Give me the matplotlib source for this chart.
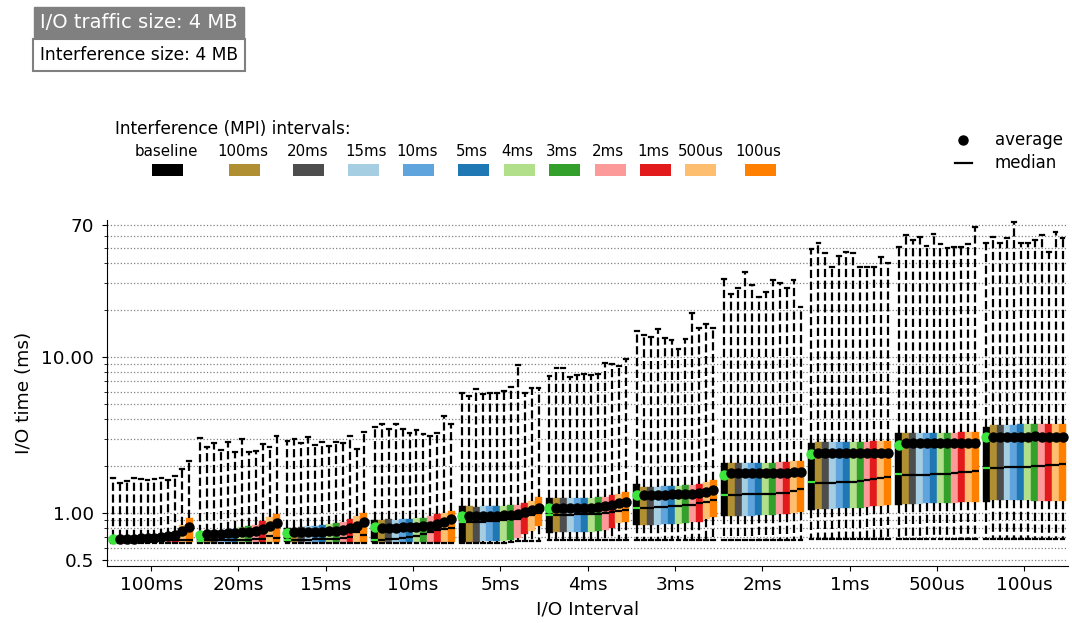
"""Box plots of I/O time per I/O interval under MPI interference."""

import matplotlib
matplotlib.use("Agg")
import matplotlib.pyplot as plt
import numpy as np
from matplotlib.patches import Rectangle
from matplotlib.lines import Line2D
from matplotlib.ticker import FixedLocator, FixedFormatter, LogLocator, NullFormatter

io_intervals = ["100ms", "20ms", "15ms", "10ms", "5ms", "4ms", "3ms", "2ms", "1ms", "500us", "100us"]
mpi_intervals = ["baseline", "100ms", "20ms", "15ms", "10ms", "5ms", "4ms", "3ms", "2ms", "1ms", "500us", "100us"]
colors = ["#000000", "#b08f32", "#4d4d4d", "#a6cee3", "#5fa4dc", "#1f78b4",
          "#b2df8a", "#33a02c", "#fb9a99", "#e31a1c", "#fdbf6f", "#ff7f00"]
baseline_color = "#3ce63c"

# upper whisker ends (ms)
whishi = [
    [1.67, 1.55, 1.61, 1.68, 1.65, 1.63, 1.65, 1.68, 1.63, 1.73, 1.91, 2.16],
    [3.01, 2.66, 2.82, 2.54, 2.86, 2.47, 2.98, 2.47, 2.50, 2.77, 2.66, 3.13],
    [2.91, 2.98, 2.82, 3.08, 2.73, 2.84, 2.69, 2.86, 2.82, 3.12, 2.57, 3.29],
    [3.54, 3.72, 3.44, 3.72, 3.44, 3.27, 3.40, 3.21, 3.13, 3.27, 4.19, 3.72],
    [5.85, 5.62, 6.21, 5.79, 5.85, 5.91, 6.08, 6.40, 8.89, 5.91, 6.30, 6.30],
    [7.55, 8.47, 8.47, 7.48, 7.67, 7.78, 7.67, 7.78, 9.12, 9.02, 8.75, 9.67],
    [14.7, 13.8, 13.4, 15.1, 13.2, 12.8, 11.2, 13.0, 19.2, 15.3, 16.2, 15.3],
    [31.5, 25.3, 27.6, 35.2, 28.9, 24.4, 26.2, 31.2, 29.9, 27.6, 31.2, 20.8],
    [49.0, 53.5, 46.6, 37.9, 44.4, 47.3, 46.2, 37.9, 37.9, 37.5, 43.6, 40.2],
    [51.0, 60.5, 56.2, 58.5, 51.5, 61.4, 53.0, 49.7, 50.5, 51.0, 53.0, 67.8],
    [53.5, 59.1, 54.0, 57.6, 73.7, 54.0, 54.0, 56.2, 60.5, 47.3, 63.6, 57.6],
]
# third quartiles
q3 = [
    [0.69, 0.69, 0.69, 0.69, 0.69, 0.69, 0.69, 0.70, 0.71, 0.73, 0.84, 0.93],
    [0.74, 0.75, 0.76, 0.77, 0.78, 0.79, 0.81, 0.82, 0.84, 0.89, 0.94, 0.99],
    [0.80, 0.80, 0.81, 0.82, 0.83, 0.84, 0.85, 0.86, 0.88, 0.92, 0.95, 1.00],
    [0.90, 0.90, 0.91, 0.90, 0.92, 0.92, 0.93, 0.93, 0.96, 0.99, 1.00, 1.03],
    [1.10, 1.10, 1.09, 1.10, 1.10, 1.10, 1.11, 1.12, 1.13, 1.15, 1.20, 1.27],
    [1.24, 1.24, 1.24, 1.24, 1.24, 1.25, 1.25, 1.26, 1.27, 1.30, 1.32, 1.37],
    [1.53, 1.47, 1.47, 1.47, 1.48, 1.48, 1.49, 1.50, 1.52, 1.54, 1.58, 1.63],
    [2.09, 2.08, 2.08, 2.08, 2.08, 2.09, 2.09, 2.10, 2.11, 2.12, 2.14, 2.16],
    [2.81, 2.85, 2.85, 2.85, 2.85, 2.85, 2.86, 2.86, 2.87, 2.88, 2.89, 2.90],
    [3.26, 3.26, 3.26, 3.25, 3.25, 3.26, 3.26, 3.27, 3.27, 3.28, 3.28, 3.29],
    [3.58, 3.66, 3.66, 3.68, 3.68, 3.70, 3.70, 3.70, 3.72, 3.72, 3.72, 3.72],
]
# first quartiles
q1 = [
    [0.655, 0.655, 0.655, 0.655, 0.655, 0.655, 0.655, 0.655, 0.655, 0.655, 0.655, 0.655],
    [0.655, 0.655, 0.655, 0.655, 0.655, 0.655, 0.655, 0.655, 0.655, 0.655, 0.655, 0.655],
    [0.655, 0.655, 0.655, 0.655, 0.655, 0.655, 0.655, 0.655, 0.655, 0.655, 0.655, 0.655],
    [0.655, 0.655, 0.655, 0.655, 0.655, 0.655, 0.655, 0.655, 0.655, 0.655, 0.655, 0.655],
    [0.655, 0.655, 0.655, 0.66, 0.66, 0.66, 0.66, 0.67, 0.69, 0.73, 0.77, 0.82],
    [0.74, 0.75, 0.75, 0.75, 0.75, 0.75, 0.76, 0.77, 0.78, 0.80, 0.86, 0.88],
    [0.84, 0.84, 0.84, 0.84, 0.85, 0.85, 0.85, 0.86, 0.87, 0.88, 0.91, 0.94],
    [0.96, 0.96, 0.96, 0.96, 0.96, 0.97, 0.97, 0.97, 0.98, 0.99, 1.00, 1.01],
    [1.05, 1.06, 1.06, 1.06, 1.07, 1.07, 1.08, 1.08, 1.09, 1.10, 1.11, 1.12],
    [1.13, 1.14, 1.14, 1.14, 1.15, 1.15, 1.15, 1.16, 1.16, 1.17, 1.18, 1.18],
    [1.18, 1.21, 1.21, 1.21, 1.21, 1.21, 1.21, 1.20, 1.20, 1.20, 1.20, 1.20],
]
# medians
med = [
    [0.66, 0.67, 0.67, 0.67, 0.67, 0.67, 0.67, 0.67, 0.67, 0.67, 0.67, 0.67],
    [0.66, 0.67, 0.67, 0.67, 0.67, 0.67, 0.67, 0.67, 0.68, 0.68, 0.71, 0.69],
    [0.67, 0.67, 0.67, 0.67, 0.68, 0.68, 0.68, 0.68, 0.69, 0.70, 0.76, 0.72],
    [0.67, 0.67, 0.68, 0.68, 0.69, 0.70, 0.71, 0.73, 0.75, 0.78, 0.79, 0.80],
    [0.88, 0.88, 0.88, 0.88, 0.89, 0.89, 0.90, 0.91, 0.92, 0.95, 0.97, 1.00],
    [0.97, 0.97, 0.97, 0.97, 0.98, 0.98, 0.99, 0.99, 1.00, 1.02, 1.03, 1.05],
    [1.07, 1.08, 1.08, 1.09, 1.09, 1.10, 1.11, 1.12, 1.13, 1.15, 1.18, 1.21],
    [1.30, 1.31, 1.31, 1.32, 1.32, 1.32, 1.33, 1.33, 1.34, 1.35, 1.38, 1.42],
    [1.58, 1.55, 1.55, 1.56, 1.57, 1.58, 1.59, 1.60, 1.62, 1.64, 1.67, 1.70],
    [1.78, 1.75, 1.75, 1.75, 1.76, 1.77, 1.78, 1.79, 1.80, 1.82, 1.84, 1.86],
    [1.93, 1.95, 1.95, 1.96, 1.96, 1.97, 1.98, 1.99, 2.00, 2.02, 2.04, 2.06],
]
# averages
mean = [
    [0.68, 0.68, 0.68, 0.685, 0.69, 0.69, 0.69, 0.70, 0.71, 0.72, 0.77, 0.81],
    [0.72, 0.73, 0.73, 0.73, 0.74, 0.74, 0.75, 0.76, 0.77, 0.79, 0.82, 0.86],
    [0.74, 0.75, 0.75, 0.75, 0.76, 0.76, 0.77, 0.77, 0.78, 0.80, 0.82, 0.88],
    [0.81, 0.80, 0.80, 0.80, 0.81, 0.81, 0.81, 0.82, 0.83, 0.85, 0.88, 0.92],
    [0.96, 0.96, 0.96, 0.96, 0.96, 0.96, 0.97, 0.97, 0.99, 1.01, 1.04, 1.08],
    [1.07, 1.07, 1.07, 1.07, 1.07, 1.08, 1.08, 1.09, 1.10, 1.12, 1.15, 1.18],
    [1.30, 1.31, 1.31, 1.31, 1.31, 1.32, 1.32, 1.32, 1.33, 1.35, 1.37, 1.40],
    [1.75, 1.80, 1.80, 1.80, 1.80, 1.80, 1.80, 1.80, 1.80, 1.81, 1.82, 1.83],
    [2.39, 2.42, 2.41, 2.42, 2.42, 2.42, 2.41, 2.42, 2.42, 2.42, 2.43, 2.44],
    [2.73, 2.81, 2.81, 2.81, 2.81, 2.81, 2.81, 2.81, 2.81, 2.81, 2.82, 2.82],
    [3.09, 3.09, 3.08, 3.08, 3.08, 3.08, 3.09, 3.10, 3.07, 3.09, 3.09, 3.09],
]
# lower whisker ends
whislo = [
    [0.64, 0.64, 0.64, 0.64, 0.64, 0.64, 0.64, 0.64, 0.64, 0.64, 0.64, 0.64],
    [0.64, 0.64, 0.64, 0.64, 0.64, 0.64, 0.64, 0.64, 0.64, 0.64, 0.64, 0.64],
    [0.64, 0.64, 0.64, 0.64, 0.64, 0.64, 0.64, 0.64, 0.64, 0.64, 0.64, 0.64],
    [0.64, 0.64, 0.64, 0.64, 0.64, 0.64, 0.64, 0.64, 0.64, 0.64, 0.64, 0.64],
    [0.64, 0.64, 0.64, 0.64, 0.64, 0.64, 0.64, 0.65, 0.66, 0.66, 0.66, 0.66],
    [0.67, 0.67, 0.67, 0.67, 0.67, 0.67, 0.67, 0.67, 0.67, 0.67, 0.67, 0.67],
    [0.67, 0.67, 0.67, 0.67, 0.67, 0.67, 0.67, 0.67, 0.67, 0.67, 0.67, 0.67],
    [0.67, 0.67, 0.67, 0.67, 0.67, 0.67, 0.67, 0.67, 0.67, 0.67, 0.67, 0.67],
    [0.68, 0.68, 0.68, 0.68, 0.68, 0.68, 0.68, 0.68, 0.68, 0.68, 0.68, 0.68],
    [0.68, 0.68, 0.68, 0.68, 0.68, 0.68, 0.68, 0.68, 0.68, 0.68, 0.68, 0.68],
    [0.68, 0.68, 0.68, 0.68, 0.68, 0.68, 0.68, 0.68, 0.68, 0.68, 0.68, 0.68],
]

W, H = 1072, 623


def fx(x):
    return x / W


def fy(y):
    return 1 - y / H


fig = plt.figure(figsize=(W / 100, H / 100), dpi=100)
ax = fig.add_axes([fx(107), fy(566), fx(1068) - fx(107), fy(220) - fy(566)])

box_w = 0.0795
stats, positions, faces = [], [], []
for g in range(len(io_intervals)):
    for j in range(len(mpi_intervals)):
        stats.append(dict(whislo=whislo[g][j], q1=q1[g][j], med=med[g][j], q3=q3[g][j],
                          whishi=whishi[g][j], mean=mean[g][j], fliers=[]))
        positions.append(g + (j - 5.5) * box_w)
        faces.append(colors[j])

bp = ax.bxp(stats, positions=positions, widths=box_w, capwidths=box_w * 0.55,
            patch_artist=True, showmeans=True, showfliers=False,
            whiskerprops=dict(color="black", linestyle="--", linewidth=1.6),
            capprops=dict(color="black", linewidth=1.6),
            medianprops=dict(color="black", linewidth=1.6),
            meanprops=dict(marker="o", markerfacecolor="black", markeredgecolor="black",
                           markersize=6.5))

n_series = len(mpi_intervals)
for k, box in enumerate(bp["boxes"]):
    box.set_facecolor(faces[k])
    box.set_edgecolor(faces[k])
    box.set_linewidth(0.3)
    if k % n_series == 0:
        bp["medians"][k].set_color(baseline_color)
        bp["means"][k].set_markerfacecolor(baseline_color)
        bp["means"][k].set_markeredgecolor(baseline_color)
    bp["means"][k].set_zorder(4)

ax.set_yscale("log")
ax.set_ylim(0.457, 75.5)
ax.set_xlim(-0.504, 10.5)
ax.yaxis.set_major_locator(FixedLocator([0.5, 1, 10, 70]))
ax.yaxis.set_major_formatter(FixedFormatter(["0.5", "1.00", "10.00", "70"]))
ax.yaxis.set_minor_locator(LogLocator(base=10, subs=np.arange(2, 10)))
ax.yaxis.set_minor_formatter(NullFormatter())
ax.grid(axis="y", which="both", linestyle=":", color="gray", linewidth=0.9)
ax.set_axisbelow(True)

ax.set_xticks(range(len(io_intervals)))
ax.set_xticklabels(io_intervals)
ax.tick_params(axis="both", which="major", labelsize=13.3)
ax.tick_params(axis="y", which="major", pad=6)
ax.set_xlabel("I/O Interval", fontsize=13.3, labelpad=5)
ax.set_ylabel("I/O time (ms)", fontsize=13.3, labelpad=6)
ax.spines["top"].set_visible(False)
ax.spines["right"].set_visible(False)

# info boxes
fig.text(fx(40), fy(23), "I/O traffic size: 4 MB", fontsize=14, color="white", va="center",
         bbox=dict(boxstyle="square,pad=0.32", facecolor="gray", edgecolor="gray"))
fig.text(fx(40), fy(55), "Interference size: 4 MB", fontsize=12.3, color="black", va="center",
         bbox=dict(boxstyle="square,pad=0.42", facecolor="white", edgecolor="gray", linewidth=1.5))

# interference legend
fig.text(fx(115), fy(129), "Interference (MPI) intervals:", fontsize=12.2, va="center")
label_x = [166, 243, 308, 366, 417, 472, 517, 562, 608, 653, 701, 758]
patch_x = [167, 244, 308, 363, 418, 473, 519, 564, 610, 655, 700, 760]
for name, c, lx, px in zip(mpi_intervals, colors, label_x, patch_x):
    fig.text(fx(lx), fy(151), name, fontsize=10.8, ha="center", va="center")
    fig.add_artist(Rectangle((fx(px - 15.5), fy(176)), 31 / W, 12 / H, facecolor=c,
                             edgecolor="none", transform=fig.transFigure))

# average / median legend
fig.add_artist(Line2D([fx(963)], [fy(140)], marker="o", color="black", markersize=6.5,
                      transform=fig.transFigure))
fig.add_artist(Line2D([fx(955), fx(972)], [fy(163), fy(163)], color="black", linewidth=1.6,
                      transform=fig.transFigure))
fig.text(fx(995), fy(140), "average", fontsize=12, va="center")
fig.text(fx(995), fy(163), "median", fontsize=12, va="center")

fig.savefig("out.png", dpi=100)
